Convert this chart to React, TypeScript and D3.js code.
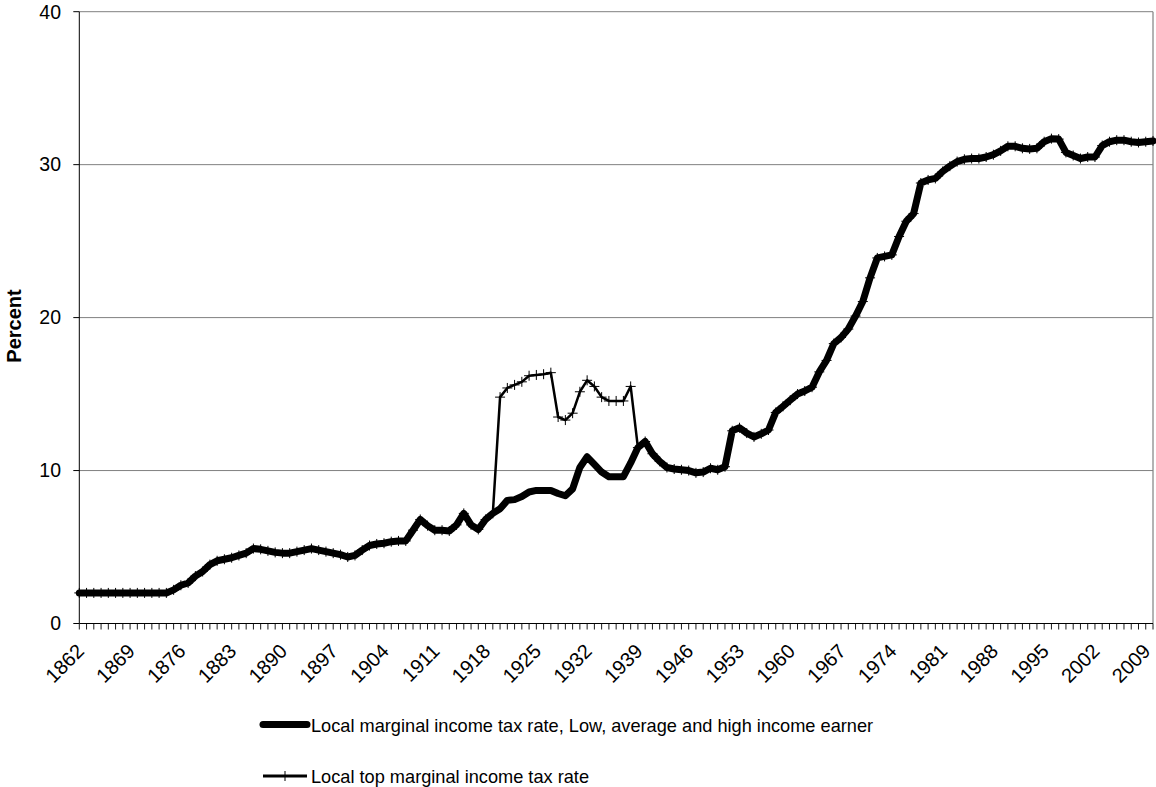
import * as d3 from "d3";

const firstYear = 1862;
const lastYear = 2010;
const years = d3.range(firstYear, lastYear + 1);

// Local marginal income tax rate, low/average/high income earner (1862-2010)
const localRate = [
  2, 2, 2, 2, 2, 2, 2, 2,
  2, 2, 2, 2, 2, 2.2, 2.5, 2.65, 3.1, 3.4,
  3.85, 4.1, 4.2, 4.3, 4.45, 4.6, 4.9, 4.85, 4.75, 4.65,
  4.6, 4.6, 4.7, 4.8, 4.9, 4.8, 4.7, 4.6, 4.5, 4.35,
  4.45, 4.8, 5.1, 5.2, 5.25, 5.35, 5.4, 5.4, 6.1, 6.8,
  6.4, 6.1, 6.1, 6.05, 6.45, 7.2, 6.45, 6.15, 6.8, 7.2,
  7.5, 8.05, 8.1, 8.3, 8.6, 8.7, 8.7, 8.7, 8.5, 8.35,
  8.8, 10.2, 10.9, 10.4, 9.9, 9.6, 9.6, 9.6, 10.5, 11.5,
  11.9, 11.1, 10.6, 10.2, 10.1, 10.05, 10.0, 9.85, 9.9, 10.15,
  10.05, 10.25, 12.6, 12.8, 12.45, 12.2, 12.4, 12.65, 13.8, 14.2,
  14.6, 15.0, 15.2, 15.45, 16.45, 17.2, 18.3, 18.7, 19.25, 20.1,
  21.05, 22.6, 23.9, 24.0, 24.1, 25.3, 26.3, 26.8, 28.8, 29.0,
  29.1, 29.55, 29.9, 30.2, 30.35, 30.4, 30.4, 30.5, 30.65, 30.9,
  31.2, 31.2, 31.07, 31.03, 31.07, 31.5, 31.7, 31.67, 30.8, 30.6,
  30.4, 30.5, 30.5, 31.25, 31.5, 31.6, 31.6, 31.5, 31.45, 31.5, 31.55,
];

// Local top marginal income tax rate (1862-2010)
const topRate = [
  2, 2, 2, 2, 2, 2, 2, 2,
  2, 2, 2, 2, 2, 2.2, 2.5, 2.65, 3.1, 3.4,
  3.85, 4.1, 4.2, 4.3, 4.45, 4.6, 4.9, 4.85, 4.75, 4.65,
  4.6, 4.6, 4.7, 4.8, 4.9, 4.8, 4.7, 4.6, 4.5, 4.35,
  4.45, 4.8, 5.1, 5.2, 5.25, 5.35, 5.4, 5.4, 6.1, 6.8,
  6.4, 6.1, 6.1, 6.05, 6.45, 7.2, 6.45, 6.15, 6.8, 7.2,
  14.8, 15.4, 15.6, 15.8, 16.2, 16.25, 16.3, 16.4, 13.5, 13.3,
  13.75, 15.15, 15.9, 15.5, 14.8, 14.55, 14.55, 14.55, 15.5, 11.5,
  11.9, 11.1, 10.6, 10.2, 10.1, 10.05, 10.0, 9.85, 9.9, 10.15,
  10.05, 10.25, 12.6, 12.8, 12.45, 12.2, 12.4, 12.65, 13.8, 14.2,
  14.6, 15.0, 15.2, 15.45, 16.45, 17.2, 18.3, 18.7, 19.25, 20.1,
  21.05, 22.6, 23.9, 24.0, 24.1, 25.3, 26.3, 26.8, 28.8, 29.0,
  29.1, 29.55, 29.9, 30.2, 30.35, 30.4, 30.4, 30.5, 30.65, 30.9,
  31.2, 31.2, 31.07, 31.03, 31.07, 31.5, 31.7, 31.67, 30.8, 30.6,
  30.4, 30.5, 30.5, 31.25, 31.5, 31.6, 31.6, 31.5, 31.45, 31.5, 31.55,
];

const yTicks = [0, 10, 20, 30, 40];
const yearLabels = d3.range(firstYear, lastYear, 7);
const legendLabels = [
  "Local marginal income tax rate, Low, average and high income earner",
  "Local top marginal income tax rate",
];

export default function App() {
  const width = 1156;
  const height = 787;
  const left = 79.3;
  const right = 1153;
  const top = 11.7;
  const bottom = 623.5;
  const font = "Arial, 'Liberation Sans', Helvetica, sans-serif";

  const x = d3.scaleLinear().domain([firstYear, lastYear]).range([left, right]);
  const y = d3.scaleLinear().domain([0, 40]).range([bottom, top]);

  const line = d3
    .line<number>()
    .x((_, i) => x(years[i]))
    .y((d) => y(d));

  const m = 5; // marker half-size

  return (
    <svg
      width={width}
      height={height}
      style={{ position: "absolute", left: 0, top: 0, background: "#fff" }}
      fontFamily={font}
    >
      {/* gridlines */}
      {yTicks.slice(1).map((t) => (
        <line key={t} x1={left} x2={right} y1={y(t)} y2={y(t)} stroke="#808080" strokeWidth={1} />
      ))}
      <line x1={right} x2={right} y1={top} y2={bottom} stroke="#808080" strokeWidth={1.2} />

      {/* axes */}
      <line x1={left} x2={left} y1={top} y2={bottom} stroke="#000" strokeWidth={1} />
      <line x1={left} x2={right} y1={bottom} y2={bottom} stroke="#000" strokeWidth={1} />
      {yTicks.map((t) => (
        <g key={t}>
          <line x1={left - 6} x2={left} y1={y(t)} y2={y(t)} stroke="#000" />
          <text x={61} y={y(t)} dy="0.35em" textAnchor="end" fontSize={19.5} fill="#000">
            {t}
          </text>
        </g>
      ))}
      {years.map((yr) => (
        <line key={yr} x1={x(yr)} x2={x(yr)} y1={bottom} y2={bottom + 6} stroke="#000" strokeWidth={0.9} />
      ))}
      {yearLabels.map((yr) => (
        <text
          key={yr}
          transform={`translate(${x(yr) + 6},${bottom + 29}) rotate(-45)`}
          textAnchor="end"
          fontSize={20}
          fill="#000"
        >
          {yr}
        </text>
      ))}
      <text
        transform={`translate(21,${326}) rotate(-90)`}
        textAnchor="middle"
        fontSize={20}
        fontWeight="bold"
        fill="#000"
      >
        Percent
      </text>

      {/* series */}
      <path d={line(localRate) ?? ""} fill="none" stroke="#000" strokeWidth={7} strokeLinejoin="round" strokeLinecap="round" />
      <path d={line(topRate) ?? ""} fill="none" stroke="#000" strokeWidth={2.5} strokeLinejoin="round" />
      {topRate.map((v, i) => (
        <path
          key={i}
          d={`M${x(years[i]) - m},${y(v)}H${x(years[i]) + m}M${x(years[i])},${y(v) - m}V${y(v) + m}`}
          stroke="#000"
          strokeWidth={1}
          fill="none"
        />
      ))}

      {/* legend */}
      <line x1={263} x2={307} y1={724.5} y2={724.5} stroke="#000" strokeWidth={7} strokeLinecap="round" />
      <text x={311} y={731.5} fontSize={18.2} fill="#000">
        {legendLabels[0]}
      </text>
      <line x1={263} x2={307} y1={776} y2={776} stroke="#000" strokeWidth={3} />
      <path d={`M${285 - m},776H${285 + m}M285,${776 - m}V${776 + m}`} stroke="#000" strokeWidth={1} />
      <text x={311} y={783} fontSize={18.2} fill="#000">
        {legendLabels[1]}
      </text>
    </svg>
  );
}
